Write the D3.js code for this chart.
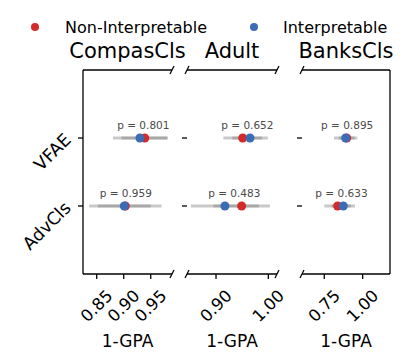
<!DOCTYPE html>
<html>
<head>
<meta charset="utf-8">
<script src="https://cdn.jsdelivr.net/npm/d3@7"></script>
<style>
  body { margin: 0; background: #fff; }
  svg text { font-family: "DejaVu Sans", sans-serif; }
</style>
</head>
<body>
<div id="chart"></div>
<script>
// data
const datasets = ['CompasCls', 'Adult', 'BanksCls'];
const models = ['VFAE', 'AdvCls'];
const methods = ['Non-Interpretable', 'Interpretable'];
const methodColors = ['#d42a2a', '#3a6db5'];

// [dataset][model]
const nonInterpMean = [[0.939, 0.903], [0.951, 0.949], [0.896, 0.837]];
const nonInterpErr  = [[0.043, 0.067], [0.037, 0.054], [0.052, 0.087]];
const interpMean    = [[0.930, 0.901], [0.965, 0.917], [0.889, 0.874]];
const interpErr     = [[0.050, 0.049], [0.034, 0.065], [0.076, 0.076]];
const pValues = [['0.801', '0.959'], ['0.652', '0.483'], ['0.895', '0.633']];

const xTicks = [[0.85, 0.90, 0.95], [0.90, 1.00], [0.75, 1.00]];
const xDomains = [[0.8246, 0.9894], [0.8445, 1.0166], [0.605, 1.178]];

var width = 407, height = 364;
var plotTop = 70, plotBottom = 274;
var panels = [[83, 172], [187, 277], [302, 390]];

var svg = d3.select('#chart').append('svg')
  .attr('width', width)
  .attr('height', height);

var y = d3.scalePoint()
  .domain(models)
  .range([plotTop, plotBottom])
  .padding(1);

// legend
var legend = [[35, 65], [254, 283]];
methods.forEach(function(m, i) {
  svg.append('circle')
    .attr('cx', legend[i][0]).attr('cy', 27).attr('r', 4)
    .attr('fill', methodColors[i]);
  svg.append('text')
    .attr('x', legend[i][1]).attr('y', 32.5)
    .attr('font-size', 16)
    .text(m);
});

datasets.forEach(function(name, d) {
  var x0 = panels[d][0], x1 = panels[d][1];
  var x = d3.scaleLinear().domain(xDomains[d]).range([x0, x1]);
  var g = svg.append('g');

  // title
  g.append('text')
    .attr('x', (x0 + x1) / 2).attr('y', 58)
    .attr('text-anchor', 'middle')
    .attr('font-size', 21)
    .text(name);

  // spines
  g.append('line').attr('x1', x0).attr('x2', x1).attr('y1', plotTop).attr('y2', plotTop)
    .attr('stroke', '#000').attr('stroke-width', 1.3);
  g.append('line').attr('x1', x0).attr('x2', x1).attr('y1', plotBottom).attr('y2', plotBottom)
    .attr('stroke', '#000').attr('stroke-width', 1.3);
  if (d == 0) {
    g.append('line').attr('x1', x0).attr('x2', x0).attr('y1', plotTop).attr('y2', plotBottom)
      .attr('stroke', '#000').attr('stroke-width', 1.3);
  }
  if (d == datasets.length - 1) {
    g.append('line').attr('x1', x1).attr('x2', x1).attr('y1', plotTop).attr('y2', plotBottom)
      .attr('stroke', '#000').attr('stroke-width', 1.3);
  }

  // break marks
  var edges = [];
  if (d > 0) edges.push(x0);
  if (d < datasets.length - 1) edges.push(x1);
  edges.forEach(function(ex) {
    [plotTop, plotBottom].forEach(function(ey) {
      g.append('line')
        .attr('x1', ex - 2).attr('y1', ey + 4)
        .attr('x2', ex + 2).attr('y2', ey - 4)
        .attr('stroke', '#000').attr('stroke-width', 1.3);
    });
  });

  // y ticks
  models.forEach(function(m) {
    g.append('line')
      .attr('x1', x0 - 5).attr('x2', x0)
      .attr('y1', y(m)).attr('y2', y(m))
      .attr('stroke', '#000').attr('stroke-width', 1.3);
    if (d == 0) {
      g.append('text')
        .attr('transform', 'translate(' + (x0 - 11) + ',' + (y(m) + 3) + ') rotate(-45)')
        .attr('text-anchor', 'end')
        .attr('font-size', 17.5)
        .text(m);
    }
  });

  // x ticks
  xTicks[d].forEach(function(t) {
    g.append('line')
      .attr('x1', x(t)).attr('x2', x(t))
      .attr('y1', plotBottom).attr('y2', plotBottom + 5)
      .attr('stroke', '#000').attr('stroke-width', 1.3);
    g.append('text')
      .attr('transform', 'translate(' + x(t) + ',306) rotate(-45)')
      .attr('text-anchor', 'middle')
      .attr('dominant-baseline', 'central')
      .attr('font-size', 16.5)
      .text(d3.format('.2f')(t));
  });

  g.append('text')
    .attr('x', (x0 + x1) / 2).attr('y', 347)
    .attr('text-anchor', 'middle')
    .attr('font-size', 17)
    .text('1-GPA');

  // intervals and points
  models.forEach(function(m, k) {
    var means = [nonInterpMean[d][k], interpMean[d][k]];
    var errs = [nonInterpErr[d][k], interpErr[d][k]];
    means.forEach(function(mu, i) {
      g.append('line')
        .attr('x1', x(mu - errs[i])).attr('x2', x(mu + errs[i]))
        .attr('y1', y(m)).attr('y2', y(m))
        .attr('stroke', '#777').attr('stroke-opacity', 0.4)
        .attr('stroke-width', 3);
    });
    means.forEach(function(mu, i) {
      g.append('circle')
        .attr('cx', x(mu)).attr('cy', y(m)).attr('r', 4.5)
        .attr('fill', methodColors[i]);
    });
    g.append('text')
      .attr('x', (x(means[0]) + x(means[1])) / 2 + 1)
      .attr('y', y(m) - 9.5)
      .attr('text-anchor', 'middle')
      .attr('font-size', 10.5)
      .attr('fill', '#4a4a4a')
      .text('p = ' + pValues[d][k]);
  });
});
</script>
</body>
</html>
